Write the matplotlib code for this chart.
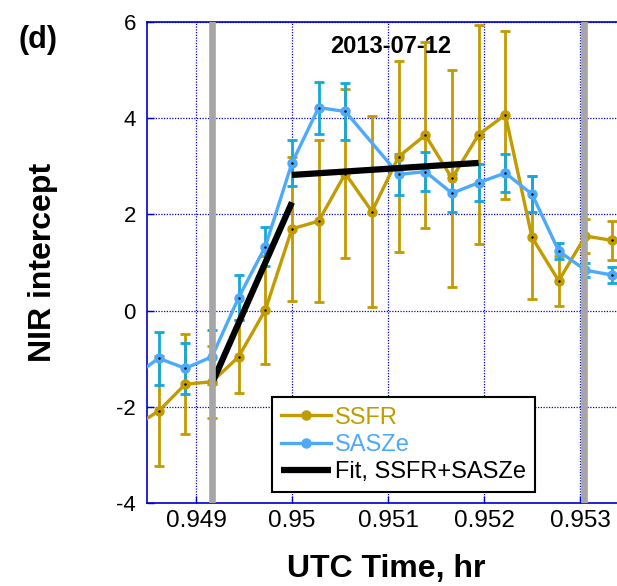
import numpy as np
import matplotlib
matplotlib.use('Agg')
import matplotlib.pyplot as plt

plt.rcParams['font.family'] = ['Liberation Sans', 'DejaVu Sans']
plt.rcParams['axes.unicode_minus'] = False

## data: seconds after 0.95 hr UTC ##
ssfr_sec = [-6, -5, -4, -3, -2, -1, 0, 1, 2, 3, 4, 5, 6, 7, 8, 9, 10, 11, 12]
ssfr_val = [-2.44, -2.09, -1.53, -1.48, -0.96, 0.01, 1.70, 1.86, 2.85, 2.06,
            3.20, 3.65, 2.75, 3.66, 4.07, 1.52, 0.62, 1.55, 1.46]
ssfr_err = [1.10, 1.14, 1.04, 0.75, 0.76, 1.13, 1.50, 1.69, 1.75, 1.98,
            1.98, 1.94, 2.25, 2.28, 1.75, 1.27, 0.52, 0.36, 0.41]

sasze_sec = [-6, -5, -4, -3, -2, -1, 0, 1, 2, 4, 5, 6, 7, 8, 9, 10, 11, 12]
sasze_val = [-1.40, -0.99, -1.20, -0.96, 0.27, 1.33, 3.07, 4.22, 4.14,
             2.83, 2.89, 2.44, 2.66, 2.86, 2.42, 1.24, 0.84, 0.74]
sasze_err = [0.55, 0.55, 0.53, 0.56, 0.46, 0.40, 0.48, 0.54, 0.60,
             0.43, 0.40, 0.39, 0.38, 0.39, 0.38, 0.17, 0.15, 0.16]

fit1_t = [0.94917, 0.95]
fit1_y = [-1.50, 2.25]
fit2_t = [0.95, 0.951944]
fit2_y = [2.82, 3.07]

marks_t = [0.94917, 0.95304]

t_ssfr = 0.95 + np.array(ssfr_sec) / 3600.0
t_sasze = 0.95 + np.array(sasze_sec) / 3600.0

gold = '#C29B00'
blue = '#4DAAFA'
blue_err = '#14A8DC'
axblue = '#0000CC'

fig = plt.figure(figsize=(6.17, 5.86), dpi=100)
ax = fig.add_axes([0.2382, 0.1416, 0.7618, 0.8209])

ax.errorbar(t_ssfr, ssfr_val, yerr=ssfr_err, fmt='none', ecolor=gold,
            elinewidth=2, capsize=3.8, capthick=2, zorder=2)
ax.errorbar(t_sasze, sasze_val, yerr=sasze_err, fmt='none', ecolor=blue_err,
            elinewidth=2, capsize=3.8, capthick=2, zorder=2.1)
ax.plot(t_ssfr, ssfr_val, '-o', color=gold, lw=2.4, ms=6.5, mec=gold, zorder=3, label='SSFR')
ax.plot(t_sasze, sasze_val, '-o', color=blue, lw=2.4, ms=6.5, mec=blue, zorder=3.1, label='SASZe')
ax.plot(t_ssfr, ssfr_val, '.', color='k', ms=1.5, zorder=3.2)
ax.plot(t_sasze, sasze_val, '.', color='k', ms=1.5, zorder=3.2)
ax.plot(fit1_t, fit1_y, '-', color='k', lw=4.5, solid_capstyle='butt', zorder=4,
        label='Fit, SSFR+SASZe')
ax.plot(fit2_t, fit2_y, '-', color='k', lw=4.5, solid_capstyle='butt', zorder=4)
for xm in marks_t:
    ax.axvline(xm, color='#A6A6A6', lw=4.8, zorder=5)

ax.set_xlim(0.94849, 0.953385)
ax.set_ylim(-4, 6)
ax.set_xticks([0.949, 0.95, 0.951, 0.952, 0.953])
ax.set_xticklabels(['0.949', '0.95', '0.951', '0.952', '0.953'])
ax.set_yticks([-4, -2, 0, 2, 4, 6])
ax.grid(True, color=axblue, linestyle=(0, (1, 1.2)), lw=0.9)
ax.set_axisbelow(True)
ax.tick_params(direction='in', color=axblue, length=5, width=1)
ax.tick_params(axis='x', labelsize=17.5, pad=5)
ax.tick_params(axis='y', labelsize=16, pad=8)
for s in ['left', 'top', 'bottom']:
    ax.spines[s].set_color(axblue)
    ax.spines[s].set_linewidth(1.2)
ax.spines['right'].set_visible(False)

ax.set_xlabel('UTC Time, hr', fontsize=23, fontweight='bold')
ax.xaxis.set_label_coords(0.51, -0.106)
ax.xaxis.label.set_va('top')
ax.set_ylabel('NIR intercept', fontsize=23, fontweight='bold')
ax.yaxis.set_label_coords(-0.19, 0.5)

ax.text(0.951028, 5.49, '2013-07-12', fontsize=17, fontweight='bold', ha='center', va='center')
fig.text(0.062, 0.932, '(d)', fontsize=22, fontweight='bold', ha='center', va='center')

L = ax.legend(loc='lower left', bbox_to_anchor=(0.266, 0.022), fontsize=17,
              frameon=True, fancybox=False, edgecolor='k', framealpha=1,
              handlelength=2.1, handletextpad=0.15, labelspacing=0.22,
              borderpad=0.4, borderaxespad=0)
L.get_frame().set_linewidth(1.5)
L.set_zorder(10)
L.get_texts()[0].set_color(gold)
L.get_texts()[1].set_color(blue)

fig.savefig('out.png', dpi=100)
